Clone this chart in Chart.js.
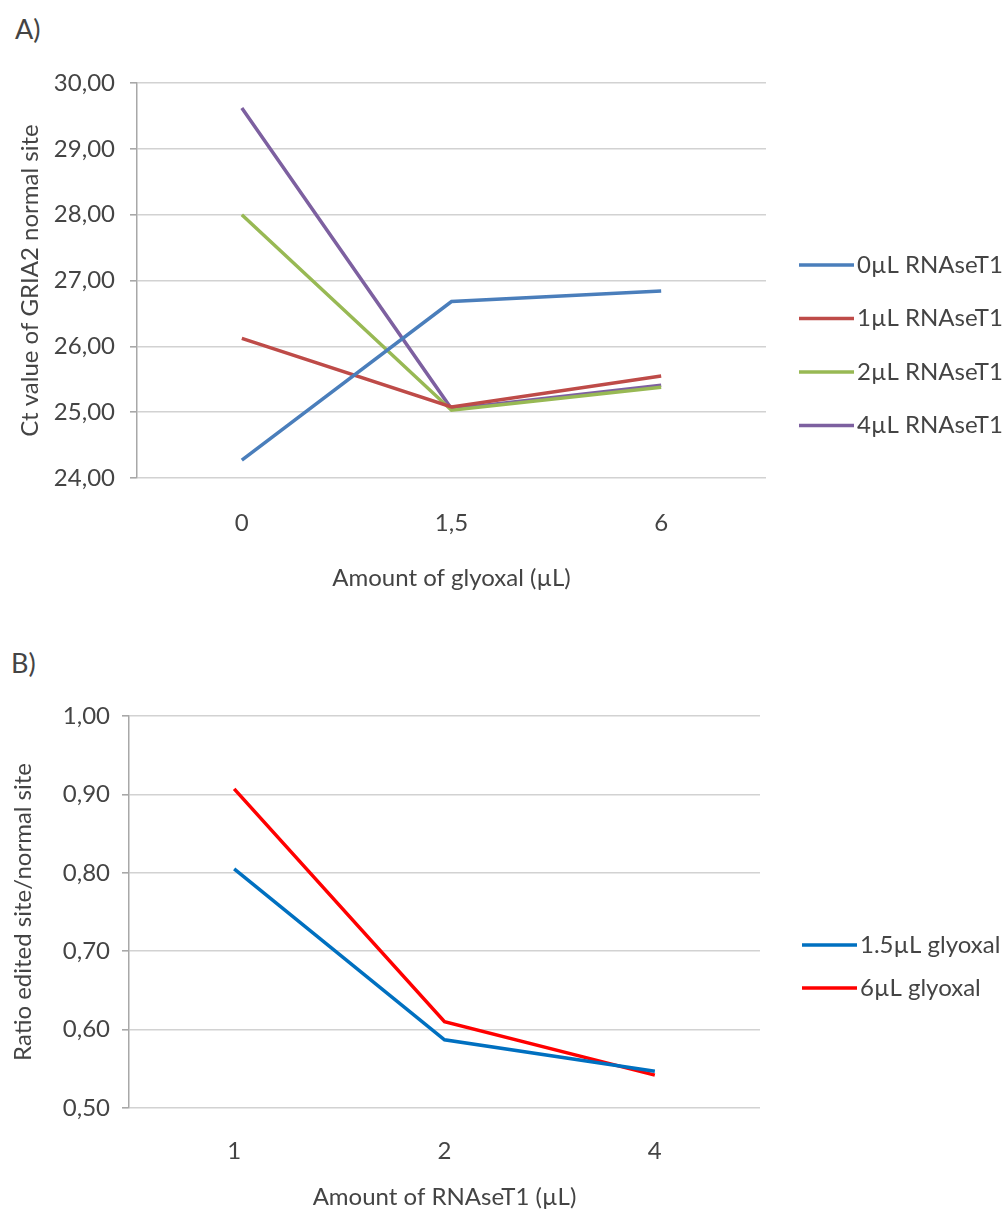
<!DOCTYPE html>
<html>
<head>
<meta charset="utf-8">
<script src="https://cdn.jsdelivr.net/npm/chart.js@4.4.1/dist/chart.umd.min.js"></script>
<style>
  html, body { margin: 0; padding: 0; background: #ffffff; }
  body { width: 1006px; height: 1215px; position: relative; overflow: hidden; font-family: Lato, "Open Sans", sans-serif; }
  .panel { position: absolute; left: 0; font-size: 27px; line-height: 32px; color: #444; }
  #cA { position: absolute; left: 0; top: 0; }
  #cB { position: absolute; left: 0; top: 640px; }
</style>
</head>
<body>
<div class="panel" style="left:15px; top:13px;">A)</div>
<div class="panel" style="left:11px; top:647px;">B)</div>
<canvas id="cA" width="1006" height="610"></canvas>
<canvas id="cB" width="1006" height="575"></canvas>
<script>
// ---- Data: panel A ----
const glyoxalLabels = ['0', '1,5', '6'];
const rnase0 = [24.27, 26.68, 26.84];
const rnase1 = [26.12, 25.08, 25.55];
const rnase2 = [28.00, 25.03, 25.38];
const rnase4 = [29.62, 25.05, 25.41];
const seriesNamesA = ['0µL RNAseT1', '1µL RNAseT1', '2µL RNAseT1', '4µL RNAseT1'];

// ---- Data: panel B ----
const rnaseLabels = ['1', '2', '4'];
const glyoxal15 = [0.805, 0.587, 0.547];
const glyoxal6 = [0.907, 0.610, 0.542];
const seriesNamesB = ['1.5µL glyoxal', '6µL glyoxal'];

const FONT = { family: 'Lato, "Open Sans", sans-serif', size: 24 };
const TXT = '#444444';
const GRID = '#d2d2d2';
const AXIS = '#a8a8a8';

const sideLegend = {
  id: 'sideLegend',
  afterDraw(chart, args, opts) {
    const ctx = chart.ctx;
    ctx.save();
    ctx.font = FONT.size + 'px ' + FONT.family;
    ctx.fillStyle = TXT;
    ctx.textBaseline = 'middle';
    ctx.textAlign = 'left';
    chart.data.datasets.forEach((ds, i) => {
      const y = opts.y + i * opts.spacing;
      ctx.strokeStyle = ds.borderColor;
      ctx.lineWidth = 3.5;
      ctx.beginPath();
      ctx.moveTo(opts.x, y);
      ctx.lineTo(opts.x + opts.lineLen, y);
      ctx.stroke();
      ctx.fillText(ds.label, opts.x + opts.lineLen + opts.gap, y);
    });
    ctx.restore();
  }
};

function comma(v) { return Number(v).toFixed(2).replace('.', ','); }

function makeOptions(cfg) {
  return {
    responsive: false,
    animation: false,
    events: [],
    layout: { padding: { top: cfg.top, right: cfg.right, left: 0, bottom: 0 } },
    elements: { point: { radius: 0 }, line: { borderWidth: 3.5, tension: 0 } },
    plugins: {
      legend: { display: false },
      tooltip: { enabled: false },
      sideLegend: cfg.legend
    },
    scales: {
      x: {
        offset: true,
        grid: { display: false, drawTicks: false },
        border: { display: false },
        ticks: { padding: cfg.xTickPad, font: FONT, color: TXT, maxRotation: 0 },
        title: { display: true, text: cfg.xTitle, font: FONT, color: TXT, padding: { top: 0, bottom: cfg.xTitlePad } },
        afterFit(s) { s.height = cfg.xHeight; }
      },
      y: {
        min: cfg.yMin, max: cfg.yMax,
        ticks: { stepSize: cfg.yStep, padding: cfg.yTickPad, font: FONT, color: TXT, callback: comma },
        grid: { color: GRID, lineWidth: 1.6, tickLength: 7, tickColor: AXIS },
        border: { color: AXIS, width: 1.5 },
        title: { display: true, text: cfg.yTitle, font: FONT, color: TXT, padding: { top: cfg.yTitlePad, bottom: 0 } },
        afterFit(s) { s.width = cfg.yWidth; }
      }
    }
  };
}

new Chart(document.getElementById('cA'), {
  type: 'line',
  data: {
    labels: glyoxalLabels,
    datasets: [
      { label: seriesNamesA[0], data: rnase0, borderColor: '#4a7ebb', backgroundColor: '#4a7ebb' },
      { label: seriesNamesA[1], data: rnase1, borderColor: '#be4b48', backgroundColor: '#be4b48' },
      { label: seriesNamesA[2], data: rnase2, borderColor: '#98b954', backgroundColor: '#98b954' },
      { label: seriesNamesA[3], data: rnase4, borderColor: '#7d60a0', backgroundColor: '#7d60a0' }
    ]
  },
  options: makeOptions({
    top: 83, right: 240, xHeight: 132, xTickPad: 31, xTitlePad: 17,
    xTitle: 'Amount of glyoxal (µL)', yTitle: 'Ct value of GRIA2 normal site',
    yMin: 24, yMax: 30, yStep: 1, yTickPad: 15, yTitlePad: 16, yWidth: 137,
    legend: { x: 799, y: 265, spacing: 53.5, lineLen: 55, gap: 3 }
  }),
  plugins: [sideLegend]
});

new Chart(document.getElementById('cB'), {
  type: 'line',
  data: {
    labels: rnaseLabels,
    datasets: [
      { label: seriesNamesB[0], data: glyoxal15, borderColor: '#0070c0', backgroundColor: '#0070c0' },
      { label: seriesNamesB[1], data: glyoxal6, borderColor: '#ff0000', backgroundColor: '#ff0000' }
    ]
  },
  options: makeOptions({
    top: 76, right: 246, xHeight: 107, xTickPad: 29, xTitlePad: 3,
    xTitle: 'Amount of RNAseT1 (µL)', yTitle: 'Ratio edited site/normal site',
    yMin: 0.5, yMax: 1.0, yStep: 0.1, yTickPad: 12, yTitlePad: 9, yWidth: 129,
    legend: { x: 802, y: 305, spacing: 43, lineLen: 55, gap: 3 }
  }),
  plugins: [sideLegend]
});
</script>
</body>
</html>
